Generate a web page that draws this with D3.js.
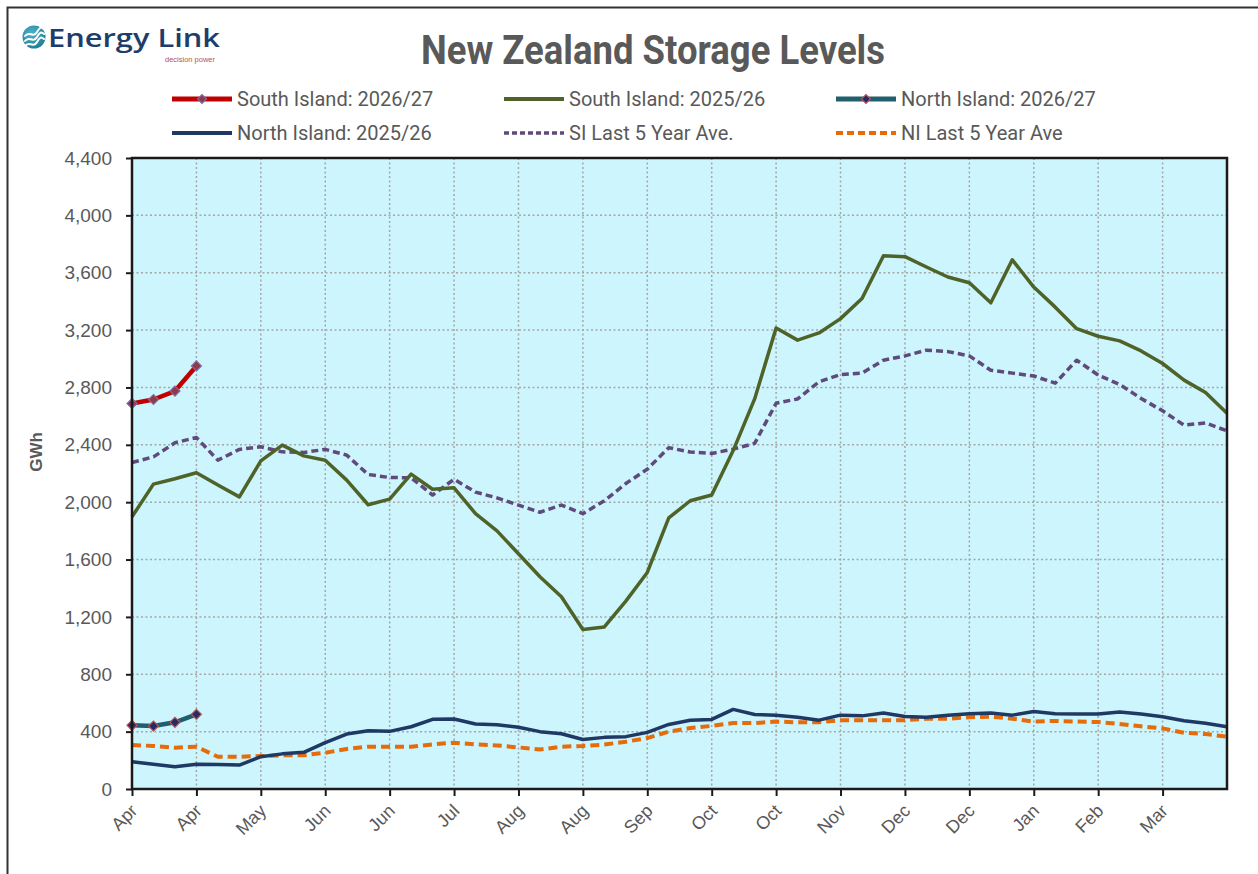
<!DOCTYPE html>
<html>
<head>
<meta charset="utf-8">
<script src="https://cdn.jsdelivr.net/npm/d3@7"></script>
<style>
  html, body { margin: 0; padding: 0; background: #fff; }
  svg { display: block; }
</style>
</head>
<body>
<div id="chart"></div>
<script>
// week-by-week month label, storage year starts 1 April
const weeks = [
  "Apr","Apr","Apr","Apr","Apr","May","May","May","May","Jun",
  "Jun","Jun","Jun","Jul","Jul","Jul","Jul","Jul","Aug","Aug",
  "Aug","Aug","Sep","Sep","Sep","Sep","Sep","Oct","Oct","Oct",
  "Oct","Nov","Nov","Nov","Nov","Dec","Dec","Dec","Dec","Dec",
  "Jan","Jan","Jan","Jan","Feb","Feb","Feb","Feb","Mar","Mar",
  "Mar","Mar"
];

const yTicks = [0, 400, 800, 1200, 1600, 2000, 2400, 2800, 3200, 3600, 4000, 4400];

// GWh
const si2627 = [2688, 2716, 2775, 2950];
const ni2627 = [444, 439, 465, 521];

const si2526 = [
  1898, 2126, 2163, 2205, 2120, 2037, 2288, 2398, 2323, 2293,
  2154, 1982, 2021, 2196, 2090, 2100, 1920, 1800, 1640, 1480,
  1340, 1112, 1130, 1310, 1510, 1890, 2010, 2050, 2360, 2720,
  3215, 3130, 3180, 3280, 3420, 3718, 3712, 3640, 3570, 3530,
  3390, 3690, 3500, 3360, 3210, 3157, 3125, 3055, 2967, 2851,
  2765, 2620
];

const ni2526 = [
  190, 173, 155, 172, 170, 167, 225, 245, 256, 323,
  383, 406, 402, 434, 486, 488, 453, 448, 430, 400,
  385, 345, 360, 365, 395, 450, 480, 485, 555, 520,
  515, 500, 480, 515, 510, 530, 505, 500, 515, 525,
  530, 515, 540, 525, 523, 523, 537, 523, 504, 476,
  458, 434
];

const siAvg = [
  2277, 2316, 2414, 2451, 2293, 2368, 2386, 2351, 2347, 2368,
  2328, 2193, 2172, 2170, 2050, 2160, 2070, 2030, 1980, 1930,
  1980, 1920, 2010, 2130, 2230, 2380, 2350, 2340, 2370, 2410,
  2690, 2720, 2840, 2890, 2900, 2990, 3020, 3060, 3050, 3020,
  2920, 2900, 2880, 2830, 2990, 2886, 2821, 2723, 2637, 2537,
  2553, 2497
];

const niAvg = [
  307, 300, 288, 295, 225, 225, 230, 235, 235, 253,
  279, 295, 295, 295, 311, 323, 311, 304, 290, 275,
  295, 300, 310, 330, 355, 400, 425, 440, 460, 460,
  470, 465, 465, 480, 480, 480, 480, 490, 490, 500,
  505, 490, 470, 475, 470, 467, 453, 437, 423, 392,
  383, 365
];

const seriesNames = [
  "South Island: 2026/27", "South Island: 2025/26", "North Island: 2026/27",
  "North Island: 2025/26", "SI Last 5 Year Ave.", "NI Last 5 Year Ave"
];

const W = 1258, H = 874;
const plot = {left: 132, right: 1227, top: 158, bottom: 789};

const svg = d3.select("#chart").append("svg")
    .attr("width", W)
    .attr("height", H)
    .style("font-family", "'Liberation Sans', Arial, sans-serif");

// outer chart frame (only left/top inside the picture)
svg.append("rect")
    .attr("x", 7.5).attr("y", 7.5)
    .attr("width", 1300).attr("height", 900)
    .attr("fill", "#fff")
    .attr("stroke", "#333").attr("stroke-width", 2);

/** logo */
const logo = svg.append("g");
const grad = svg.append("defs").append("radialGradient")
    .attr("id", "logoGrad").attr("cx", "40%").attr("cy", "35%").attr("r", "70%");
grad.append("stop").attr("offset", "0%").attr("stop-color", "#4fb3c8");
grad.append("stop").attr("offset", "100%").attr("stop-color", "#1c7d96");
logo.append("circle").attr("cx", 34).attr("cy", 37).attr("r", 11.5)
    .attr("fill", "url(#logoGrad)");
[-5, 0, 5].forEach(dy => {
  logo.append("path")
      .attr("d", `M25,${41 + dy} C29,${35 + dy} 33,${44 + dy} 37,${37 + dy} S42,${33 + dy} 44,${34 + dy}`)
      .attr("fill", "none").attr("stroke", "#fff").attr("stroke-width", 2)
      .attr("stroke-linecap", "round");
});
logo.append("text")
    .attr("x", 48).attr("y", 47)
    .attr("font-family", "'Open Sans', 'Noto Sans', sans-serif")
    .attr("font-size", 25).attr("font-weight", 600)
    .attr("fill", "#1d3d6b")
    .attr("textLength", 172).attr("lengthAdjust", "spacingAndGlyphs")
    .text("Energy Link");
logo.append("text")
    .attr("x", 165).attr("y", 62)
    .attr("font-size", 7.5)
    .attr("fill", "#c0504d")
    .text("decision power");

/** title */
svg.append("text")
    .attr("x", 421).attr("y", 64)
    .attr("font-family", "'Liberation Sans Narrow', 'Roboto', sans-serif")
    .attr("font-size", 40).attr("font-weight", "bold")
    .attr("fill", "#595959")
    .attr("textLength", 464).attr("lengthAdjust", "spacingAndGlyphs")
    .text("New Zealand Storage Levels");

/** scales */
const x = d3.scaleLinear().domain([0, 51]).range([plot.left, plot.right]);
const y = d3.scaleLinear().domain([0, 4400]).range([plot.bottom, plot.top]);

// plot background
svg.append("rect")
    .attr("x", plot.left).attr("y", plot.top)
    .attr("width", plot.right - plot.left).attr("height", plot.bottom - plot.top)
    .attr("fill", "#ccf5fd");

const xTickIdx = d3.range(0, 49, 3);

// gridlines
const grid = svg.append("g")
    .attr("stroke", "#a6a6a6").attr("stroke-width", 1.5)
    .attr("stroke-dasharray", "2,2.5");
grid.selectAll(".hg").data(yTicks.slice(1, -1)).enter().append("line")
    .attr("x1", plot.left).attr("x2", plot.right)
    .attr("y1", d => y(d)).attr("y2", d => y(d));
grid.selectAll(".vg").data(xTickIdx.slice(1)).enter().append("line")
    .attr("y1", plot.top).attr("y2", plot.bottom)
    .attr("x1", d => x(d)).attr("x2", d => x(d));

/** series */
const line = d3.line().x((d, i) => x(i)).y(d => y(d));

function drawLine(data, color, width, dash) {
  svg.append("path")
      .datum(data)
      .attr("d", line)
      .attr("fill", "none")
      .attr("stroke", color)
      .attr("stroke-width", width)
      .attr("stroke-linejoin", "round")
      .attr("stroke-dasharray", dash || null);
}

const diamond = d3.symbol().type(d3.symbolSquare).size(50);

function drawMarkers(data, fill, stroke) {
  svg.append("g").selectAll("path").data(data).enter().append("path")
      .attr("d", diamond)
      .attr("transform", (d, i) => `translate(${x(i)},${y(d)}) rotate(45)`)
      .attr("fill", fill)
      .attr("stroke", stroke)
      .attr("stroke-width", 1.2);
}

drawLine(niAvg, "#e46c0a", 4, "9,5");
drawLine(siAvg, "#604a7b", 3.5, "7,4");
drawLine(ni2526, "#1f3864", 3.5);
drawLine(si2526, "#4f6228", 3.5);
drawLine(ni2627, "#215e6e", 4.5);
drawMarkers(ni2627, "#1f2d6b", "#c0504d");
drawLine(si2627, "#c00000", 4.5);
drawMarkers(si2627, "#8e3b46", "#7f6aae");

// plot border
svg.append("rect")
    .attr("x", plot.left).attr("y", plot.top)
    .attr("width", plot.right - plot.left).attr("height", plot.bottom - plot.top)
    .attr("fill", "none")
    .attr("stroke", "#1a1a1a").attr("stroke-width", 2.5);

/** axes */
const yAxis = svg.append("g")
    .attr("transform", `translate(${plot.left},0)`)
    .call(d3.axisLeft(y).tickValues(yTicks).tickSize(6).tickPadding(14)
        .tickFormat(d3.format(",")));
yAxis.select(".domain").remove();
yAxis.selectAll(".tick line").attr("stroke", "#1a1a1a").attr("stroke-width", 2);
yAxis.selectAll("text")
    .attr("font-size", 19).attr("fill", "#595959")
    .attr("font-family", "'Liberation Sans', Arial, sans-serif");

const xAxis = svg.append("g")
    .attr("transform", `translate(0,${plot.bottom})`)
    .call(d3.axisBottom(x).tickValues(xTickIdx).tickSize(7)
        .tickFormat(i => weeks[i]));
xAxis.select(".domain").remove();
xAxis.selectAll(".tick line").attr("stroke", "#1a1a1a").attr("stroke-width", 2);
xAxis.selectAll("text")
    .attr("font-size", 18).attr("fill", "#595959")
    .attr("font-family", "'Liberation Sans', Arial, sans-serif")
    .attr("text-anchor", "end")
    .attr("dy", null)
    .attr("y", 0)
    .attr("transform", "translate(6,23) rotate(-45)");

svg.append("text")
    .attr("transform", "translate(42,452) rotate(-90)")
    .attr("text-anchor", "middle")
    .attr("font-size", 17).attr("font-weight", "bold")
    .attr("fill", "#595959")
    .text("GWh");

/** legend */
const legendItems = [
  {name: seriesNames[0], color: "#c00000", w: 5, dash: null, marker: ["#8e3b46", "#7f6aae"], x: 172, y: 99},
  {name: seriesNames[1], color: "#4f6228", w: 4, dash: null, marker: null, x: 504, y: 99},
  {name: seriesNames[2], color: "#215e6e", w: 5, dash: null, marker: ["#1f2d6b", "#c0504d"], x: 836, y: 99},
  {name: seriesNames[3], color: "#1f3864", w: 4, dash: null, marker: null, x: 172, y: 133},
  {name: seriesNames[4], color: "#604a7b", w: 3.5, dash: "5,3", marker: null, x: 504, y: 133},
  {name: seriesNames[5], color: "#e46c0a", w: 4, dash: "7,4", marker: null, x: 836, y: 133}
];

const legend = svg.append("g")
    .attr("font-family", "'Liberation Sans Narrow', 'Roboto', sans-serif");
legendItems.forEach(it => {
  const g = legend.append("g").attr("transform", `translate(${it.x},${it.y})`);
  g.append("line")
      .attr("x1", 0).attr("x2", 60).attr("y1", 0).attr("y2", 0)
      .attr("stroke", it.color).attr("stroke-width", it.w)
      .attr("stroke-dasharray", it.dash);
  if (it.marker) {
    g.append("path")
        .attr("d", d3.symbol().type(d3.symbolSquare).size(40))
        .attr("transform", "translate(30,0) rotate(45)")
        .attr("fill", it.marker[0]).attr("stroke", it.marker[1]).attr("stroke-width", 1.2);
  }
  g.append("text")
      .attr("x", 65).attr("y", 7)
      .attr("font-size", 20)
      .attr("fill", "#595959")
      .text(it.name);
});
</script>
</body>
</html>
